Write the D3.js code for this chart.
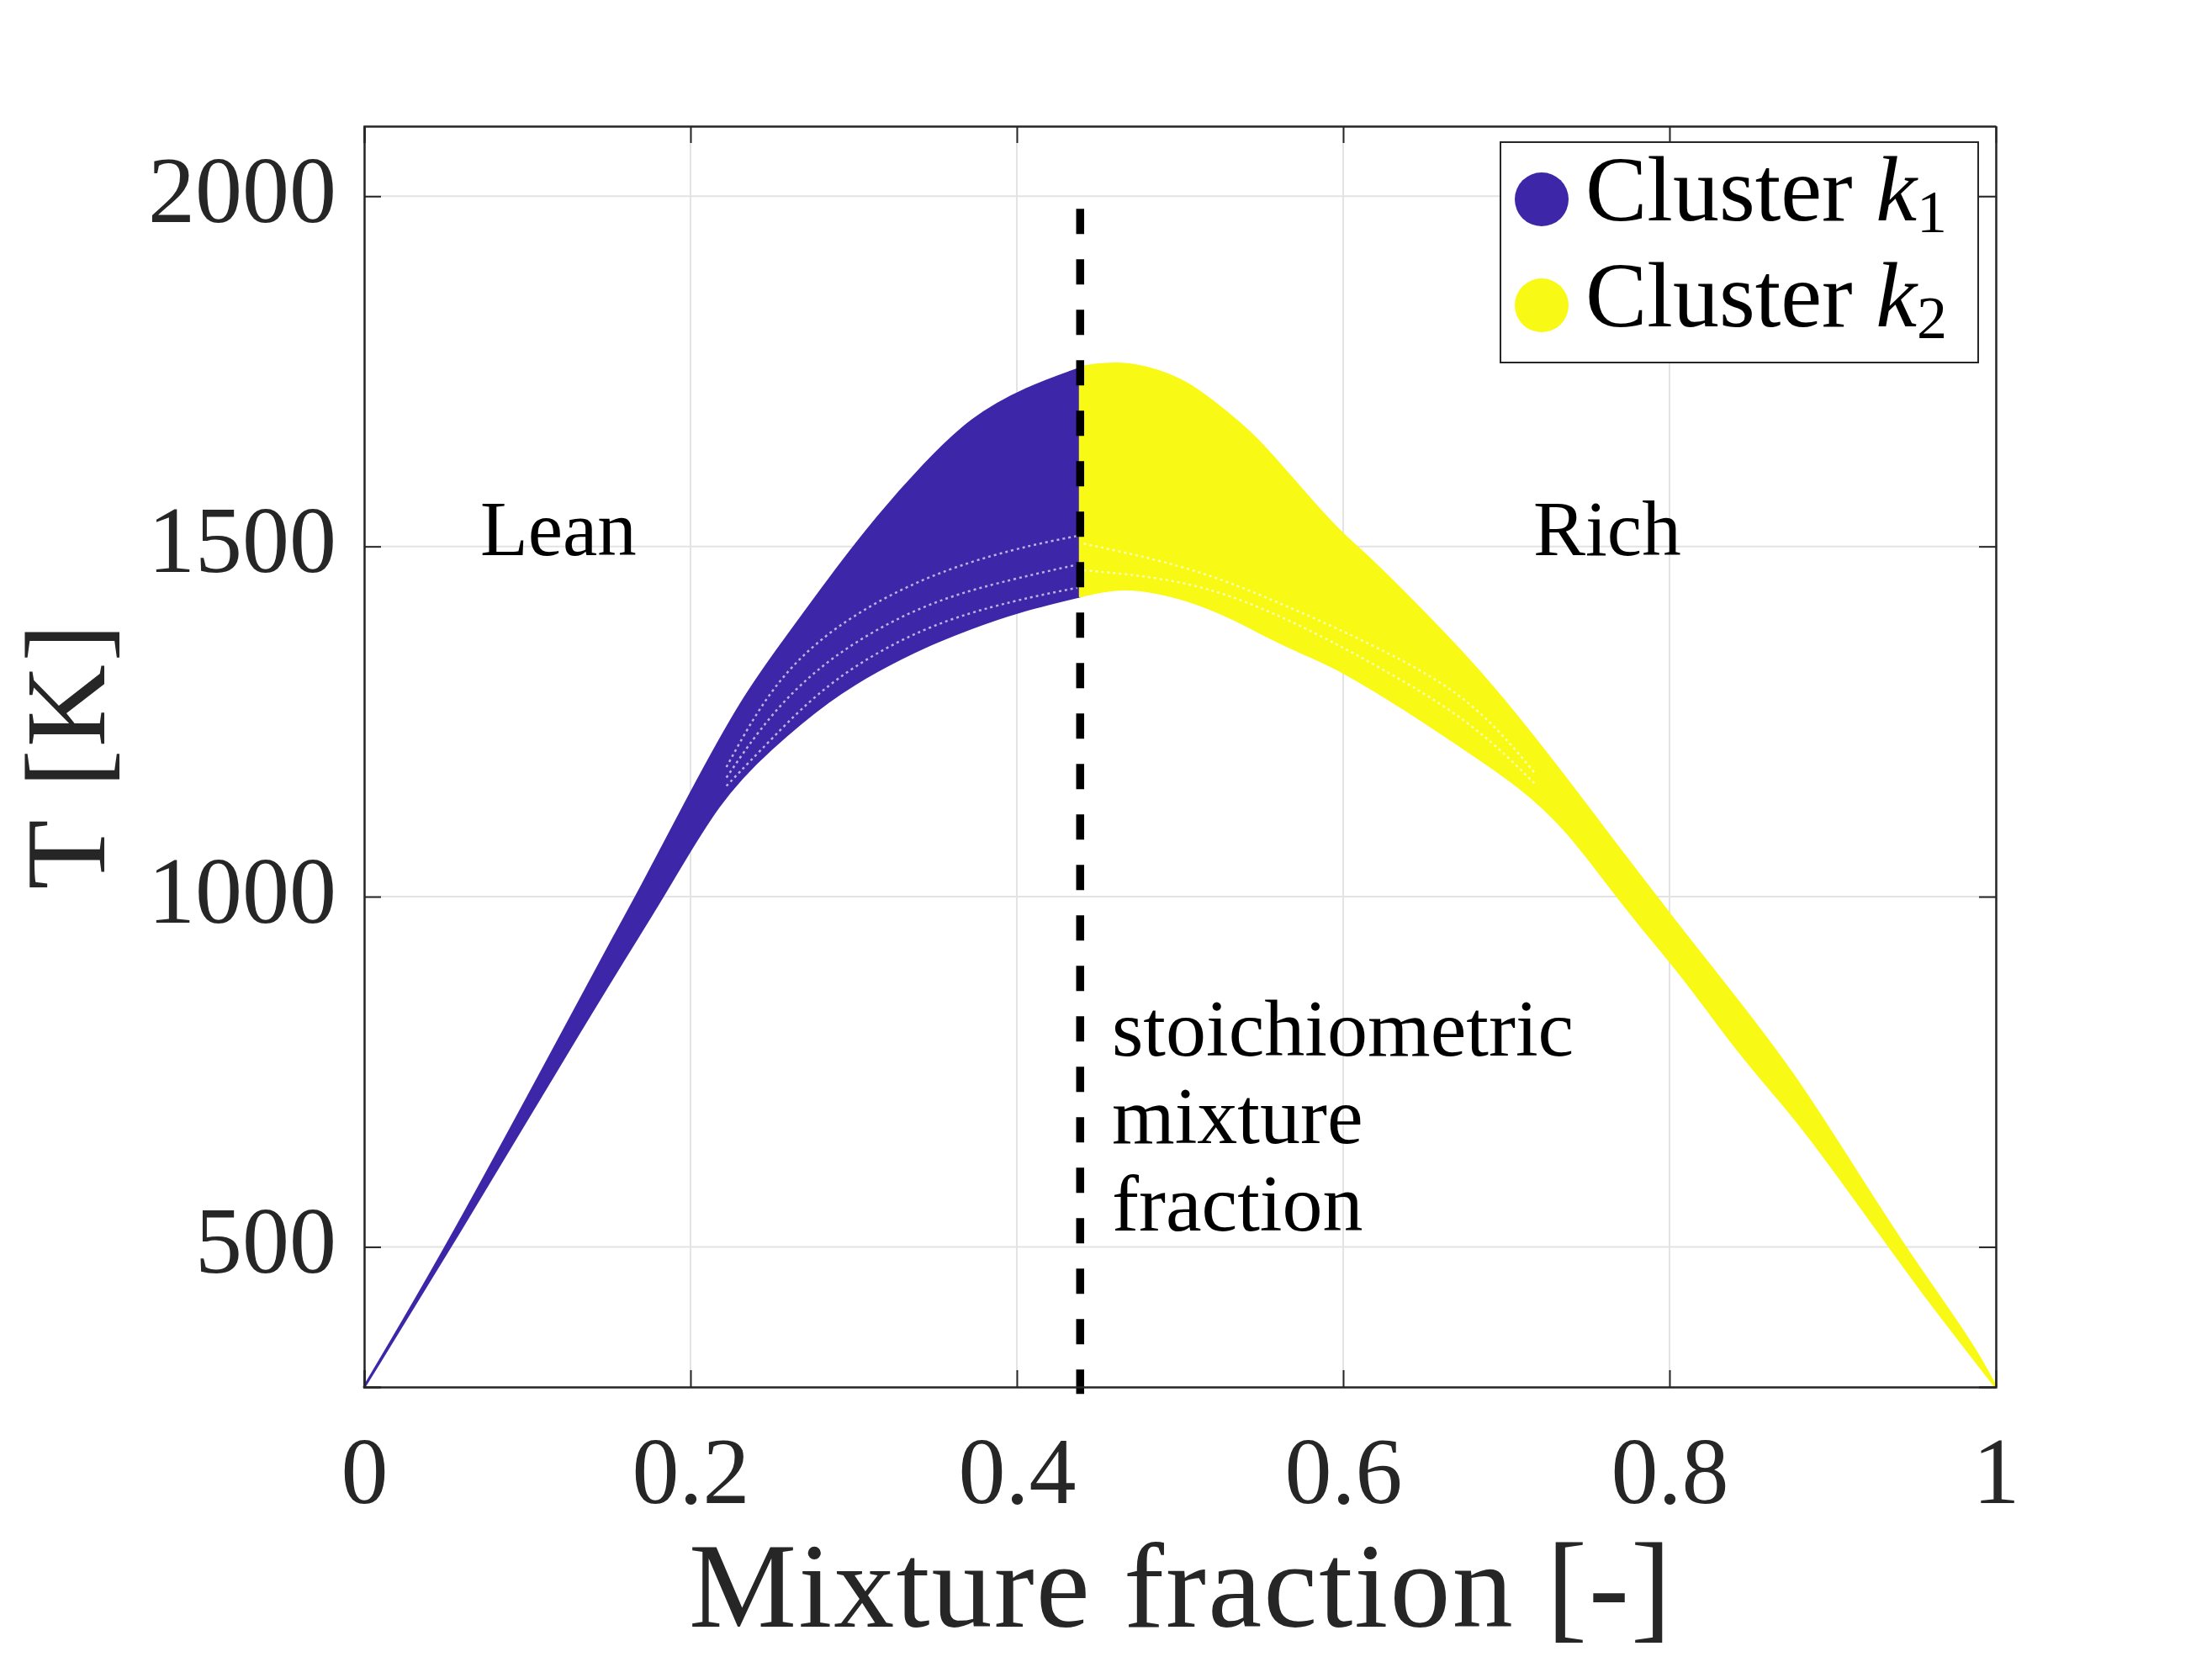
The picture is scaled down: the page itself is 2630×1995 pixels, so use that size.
<!DOCTYPE html>
<html>
<head>
<meta charset="utf-8">
<script src="https://cdn.jsdelivr.net/npm/d3@7"></script>
<style>
  body { margin: 0; background: #fff; }
</style>
</head>
<body>
<svg id="chart"></svg>
<script>
// DATA
const zStoich = 0.4388;
const xTicks = [0, 0.2, 0.4, 0.6, 0.8, 1];
const xTickLabels = ['0', '0.2', '0.4', '0.6', '0.8', '1'];
const yTicks = [500, 1000, 1500, 2000];
const yTickLabels = ['500', '1000', '1500', '2000'];

// cluster k1: lean side, upper and lower edge of the point cloud
const leanUpperZ = [0, 0.051, 0.130, 0.156, 0.167, 0.200, 0.232, 0.257, 0.286, 0.315, 0.343, 0.372, 0.406, 0.4388];
const leanUpperT = [300, 500, 842, 955, 1000, 1148, 1284, 1364, 1457, 1544, 1617, 1684, 1727, 1754];
const leanLowerZ = [0, 0.053, 0.140, 0.172, 0.183, 0.218, 0.248, 0.286, 0.315, 0.343, 0.372, 0.400, 0.4388];
const leanLowerT = [300, 500, 839, 959, 1000, 1140, 1210, 1284, 1324, 1357, 1384, 1407, 1429];
// thin white gaps seen inside the k1 cloud
const leanGapZ = [0.222, 0.249, 0.286, 0.343, 0.400, 0.437];
const leanGapT = [
  [1158, 1224, 1311, 1387, 1424, 1441],
  [1170, 1262, 1345, 1420, 1455, 1474],
  [1185, 1300, 1385, 1458, 1498, 1515]
];

// cluster k2: rich side
const richUpperZ = [0.4388, 0.462, 0.487, 0.506, 0.524, 0.545, 0.566, 0.584, 0.600, 0.616, 0.649, 0.672, 0.695, 0.728, 0.764, 0.805, 0.839, 0.877, 0.912, 0.944, 0.966, 0.988, 1.0];
const richUpperT = [1756, 1764, 1752, 1732, 1700, 1660, 1604, 1556, 1516, 1484, 1407, 1351, 1291, 1195, 1084, 959, 860, 745, 616, 500, 427, 352, 300];
const richLowerZ = [0.4388, 0.462, 0.487, 0.510, 0.534, 0.557, 0.580, 0.600, 0.636, 0.679, 0.707, 0.736, 0.764, 0.782, 0.810, 0.843, 0.877, 0.899, 0.935, 0.959, 0.979, 1.0];
const richLowerT = [1429, 1442, 1435, 1420, 1396, 1367, 1343, 1322, 1271, 1204, 1160, 1100, 1012, 959, 882, 775, 685, 616, 500, 423, 363, 300];
// thin white gaps seen inside the k2 cloud
const richGapZ = [0.441, 0.507, 0.564, 0.621, 0.679, 0.718];
const richGapT = [
  [1466, 1452, 1400, 1330, 1250, 1160],
  [1504, 1471, 1417, 1357, 1284, 1175]
];

const clusters = [
  { name: 'k1', color: '#3e26a8', uz: leanUpperZ, ut: leanUpperT, lz: leanLowerZ, lt: leanLowerT, gz: leanGapZ, gt: leanGapT },
  { name: 'k2', color: '#f9f916', uz: richUpperZ, ut: richUpperT, lz: richLowerZ, lt: richLowerT, gz: richGapZ, gt: richGapT }
];

//SETUP
const width = 2630, height = 1995;
const margin = { left: 433, top: 150, right: 257, bottom: 346 };
const w = width - margin.left - margin.right;
const h = height - margin.top - margin.bottom;
const axisColor = '#262626';
const cmFont = '"Liberation Serif", "DejaVu Serif", serif';

const svg = d3.select('#chart').attr('width', width).attr('height', height);

const x = d3.scaleLinear().domain([0, 1]).range([0, w]);
const y = d3.scaleLinear().domain([300, 2100]).range([h, 0]);

const g = svg.append('g').attr('transform', `translate(${margin.left},${margin.top})`);

//GRID
g.append('g')
  .selectAll('line')
  .data(xTicks)
  .join('line')
  .attr('x1', (d) => x(d)).attr('x2', (d) => x(d))
  .attr('y1', 0).attr('y2', h)
  .attr('stroke', '#e3e3e3').attr('stroke-width', 2);

g.append('g')
  .selectAll('line')
  .data(yTicks)
  .join('line')
  .attr('x1', 0).attr('x2', w)
  .attr('y1', (d) => y(d)).attr('y2', (d) => y(d))
  .attr('stroke', '#e3e3e3').attr('stroke-width', 2);

//CLOUDS
const edge = d3.line().x((d) => x(d[0])).y((d) => y(d[1])).curve(d3.curveBasis);

clusters.forEach((c) => {
  const upper = c.uz.map((z, i) => [z, c.ut[i]]);
  const lower = c.lz.map((z, i) => [z, c.lt[i]]).reverse();
  const d = edge(upper) + 'L' + edge(lower).slice(1) + 'Z';
  g.append('path')
    .attr('d', d)
    .attr('fill', c.color)
    .attr('stroke', c.color)
    .attr('stroke-width', 3)
    .attr('stroke-linejoin', 'round');

  c.gt.forEach((ts) => {
    g.append('path')
      .attr('d', edge(c.gz.map((z, i) => [z, ts[i]])))
      .attr('fill', 'none')
      .attr('stroke', '#fff')
      .attr('stroke-opacity', 0.65)
      .attr('stroke-width', 2.5)
      .attr('stroke-dasharray', '3,4');
  });
});

//STOICHIOMETRIC LINE
g.append('line')
  .attr('x1', x(zStoich)).attr('x2', x(zStoich))
  .attr('y1', y(1982)).attr('y2', y(290))
  .attr('stroke', '#000')
  .attr('stroke-width', 9.5)
  .attr('stroke-dasharray', '30,30');

//AXES
const xAxis = d3.axisBottom(x).tickValues(xTicks).tickFormat((d, i) => xTickLabels[i]).tickSize(-20).tickPadding(58);
const yAxis = d3.axisLeft(y).tickValues(yTicks).tickFormat((d, i) => yTickLabels[i]).tickSize(-20).tickPadding(33);

const gx = g.append('g').attr('transform', `translate(0,${h})`).call(xAxis);
const gy = g.append('g').call(yAxis);
g.append('g').call(d3.axisTop(x).tickValues(xTicks).tickFormat('').tickSize(-20));
g.append('g').attr('transform', `translate(${w},0)`).call(d3.axisRight(y).tickValues(yTicks).tickFormat('').tickSize(-20));

g.selectAll('.domain').attr('stroke', axisColor).attr('stroke-width', 2.5);
g.selectAll('.tick line').attr('stroke', axisColor).attr('stroke-width', 2);
g.selectAll('.domain').each(function () {
  d3.select(this).attr('d', d3.select(this).attr('d').replace(/V-?20|H-?20/g, ''));
});

gx.selectAll('text').attr('font-family', cmFont).attr('font-size', 112).attr('fill', axisColor).attr('dy', '0.71em');
gy.selectAll('text').attr('font-family', cmFont).attr('font-size', 112).attr('fill', axisColor).attr('dy', '0.27em');

//AXIS LABELS
svg.append('text')
  .attr('x', margin.left + w / 2).attr('y', 1934)
  .attr('text-anchor', 'middle')
  .attr('font-family', cmFont).attr('font-size', 144).attr('fill', axisColor)
  .attr('textLength', 1168).attr('lengthAdjust', 'spacing')
  .text('Mixture fraction [-]');

svg.append('text')
  .attr('transform', `translate(124,${margin.top + h / 2}) rotate(-90)`)
  .attr('text-anchor', 'middle')
  .attr('font-family', cmFont).attr('font-size', 136).attr('fill', axisColor)
  .attr('textLength', 316).attr('lengthAdjust', 'spacing')
  .text('T [K]');

//ANNOTATIONS
const noteFont = '"Liberation Serif", serif';
svg.append('text').attr('x', 571).attr('y', 660).attr('font-family', noteFont).attr('font-size', 93).text('Lean');
svg.append('text').attr('x', 1823).attr('y', 660).attr('font-family', noteFont).attr('font-size', 93).text('Rich');
const note = svg.append('text').attr('font-family', noteFont).attr('font-size', 96);
['stoichiometric', 'mixture', 'fraction'].forEach((t, i) => {
  note.append('tspan').attr('x', 1322).attr('y', 1255 + i * 104).text(t);
});

//LEGEND
const legend = svg.append('g').attr('transform', 'translate(1784,169)');
legend.append('rect')
  .attr('width', 568).attr('height', 262)
  .attr('fill', '#fff').attr('stroke', axisColor).attr('stroke-width', 2);

clusters.forEach((c, i) => {
  const row = legend.append('g').attr('transform', `translate(0,${68 + i * 126})`);
  row.append('circle').attr('cx', 49).attr('cy', 0).attr('r', 32).attr('fill', c.color);
  const t = row.append('text')
    .attr('x', 101).attr('y', 25)
    .attr('font-family', cmFont).attr('font-size', 110).attr('fill', '#000');
  t.append('tspan').text('Cluster ');
  t.append('tspan').attr('font-style', 'italic').text('k');
  t.append('tspan').attr('font-size', 72).attr('dy', 14).text(String(i + 1));
});
</script>
</body>
</html>
